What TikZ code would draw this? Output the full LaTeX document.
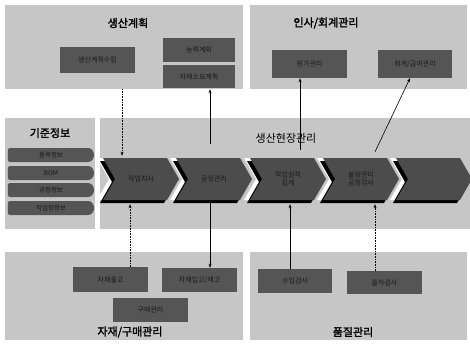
\documentclass[tikz,border=0pt]{standalone}
\usepackage{fontspec}
\newfontfamily\kr{Noto Sans CJK KR}
\newfontfamily\krb{Noto Sans CJK KR}[FakeBold=2]
\usetikzlibrary{arrows.meta}
\definecolor{panelgray}{HTML}{C6C6C6}
\definecolor{boxgray}{HTML}{555555}
\definecolor{chevgray}{HTML}{4C4C4C}
\tikzset{
  panel/.style={fill=panelgray,draw=none,inner sep=0pt},
  boxn/.style={fill=boxgray,draw=none,inner sep=0pt,font=\kr\fontsize{7}{8}\selectfont,text=black!90},
  ttl/.style={font=\krb\fontsize{11}{12}\selectfont,inner sep=0pt},
  chevtxt/.style={minimum width=60pt,minimum height=42pt,inner sep=0pt,align=center,font=\kr\fontsize{7}{8}\selectfont,text=black!90},
  arr/.style={-{Stealth[length=4pt,width=3pt]},line width=0.6pt},
  itemtxt/.style={font=\kr\fontsize{6.5}{7}\selectfont,text=black!90,inner sep=0pt},
}
\newcommand{\chevshape}[3]{%
  \fill[#2] (#1,158) -- (#1+64,158) -- (#1+76,179) -- (#1+64,200) -- (#1,200) -- (#1+12,179) -- cycle;}
\begin{document}
\begin{tikzpicture}[x=1pt,y=-1pt]
\useasboundingbox[fill=white] (0,0) rectangle (470,345);
% panels
\node[panel,minimum width=238pt,minimum height=84pt] (pplan) at (124,47) {};
\node[panel,minimum width=217pt,minimum height=84pt] (phr) at (358.5,47) {};
\node[panel,minimum width=90pt,minimum height=111pt] (pbase) at (50,173.5) {};
\node[panel,minimum width=370pt,minimum height=111pt] (pfield) at (285,173.5) {};
\node[panel,minimum width=238pt,minimum height=88pt] (pmat) at (124,296) {};
\node[panel,minimum width=217pt,minimum height=88pt] (pqual) at (358.5,296) {};
% titles
\node[ttl] (t1) at (128,23) {생산계획};
\node[ttl] (t2) at (326,23) {인사/회계관리};
\node[ttl] (t3) at (50,133) {기준정보};
\node[ttl,font=\kr\fontsize{11}{12}\selectfont] (t4) at (286,138) {생산현장관리};
\node[ttl] (t5) at (130,332) {자재/구매관리};
\node[ttl] (t6) at (353,332) {품질관리};
% boxes
\node[boxn,minimum width=75pt,minimum height=26pt] (b1) at (97.5,60) {생산계획수립};
\node[boxn,minimum width=72pt,minimum height=24pt] (b2) at (199,50) {능력계획};
\node[boxn,minimum width=72pt,minimum height=23pt] (b3) at (199,76.5) {자재소요계획};
\node[boxn,minimum width=75pt,minimum height=28pt] (b4) at (309.5,64) {원가관리};
\node[boxn,minimum width=74pt,minimum height=28pt] (b5) at (415,64) {회계/급여관리};
\node[boxn,minimum width=75pt,minimum height=25pt] (m1) at (110.5,279.5) {자재출고};
\node[boxn,minimum width=75pt,minimum height=24pt] (m2) at (199.5,280) {자재입고/재고};
\node[boxn,minimum width=75pt,minimum height=24pt] (m3) at (150.5,310) {구매관리};
\node[boxn,minimum width=74pt,minimum height=24pt] (q1) at (295,281) {수입검사};
\node[boxn,minimum width=75pt,minimum height=23pt] (q2) at (384.5,282.5) {출하검사};
% base info items
\foreach \y/\t [count=\i] in {148/품목정보,166/BOM,183/공정정보,201/작업장정보}{
  \fill[boxgray] (10,\y) -- (88,\y) to[out=0,in=90] (94,\y+7) to[out=-90,in=0] (88,\y+14) -- (10,\y+14) to[out=180,in=-90] (8,\y+7) to[out=90,in=180] (10,\y) -- cycle;
  \node[itemtxt] (it\i) at (51,\y+7) {\t};
}
% chevrons
\foreach \x in {103,176,250,323,396}{
  \begin{scope}[shift={(-6,0)}]\chevshape{\x}{white}{}\end{scope}
  \begin{scope}[shift={(-3,3)}]\chevshape{\x}{black}{}\end{scope}
  \chevshape{\x}{chevgray}{}
}
\node[chevtxt] (c1) at (141,179) {작업지시};
\node[chevtxt] (c2) at (214,179) {공정관리};
\node[chevtxt] (c3) at (288,179) {작업실적\\집계};
\node[chevtxt] (c4) at (361,179) {불량관리\\공정검사};
\node[chevtxt] (c5) at (434,179) {};
% connectors
\draw[arr,densely dotted] ([xshift=-19pt]c1.north |- pplan.south) -- ([xshift=-19pt,yshift=2pt]c1.north);
\draw[arr] ([xshift=-4pt,yshift=14pt]c2.north) -- ([xshift=-4pt]c2.north |- pplan.south);
\draw[arr] ([xshift=12pt,yshift=8pt]c3.north) -- ([xshift=12pt]c3.north |- b4.south);
\draw[arr] ([xshift=14pt,yshift=6pt]c4.north) -- ([xshift=-5pt]b5.south);
\draw[arr,densely dotted] ([xshift=-11pt]c1.south |- m1.north) -- ([xshift=-11pt,yshift=-4pt]c1.south);
\draw[arr] ([xshift=-4pt,yshift=-3pt]c2.south) -- ([xshift=-4pt]c2.south |- m2.north);
\draw[arr] ([xshift=2pt]c3.south |- q1.north) -- ([xshift=2pt,yshift=-4pt]c3.south);
\draw[arr,densely dotted] ([xshift=14pt]c4.south |- q2.north) -- ([xshift=14pt,yshift=-4pt]c4.south);
\end{tikzpicture}
\end{document}
